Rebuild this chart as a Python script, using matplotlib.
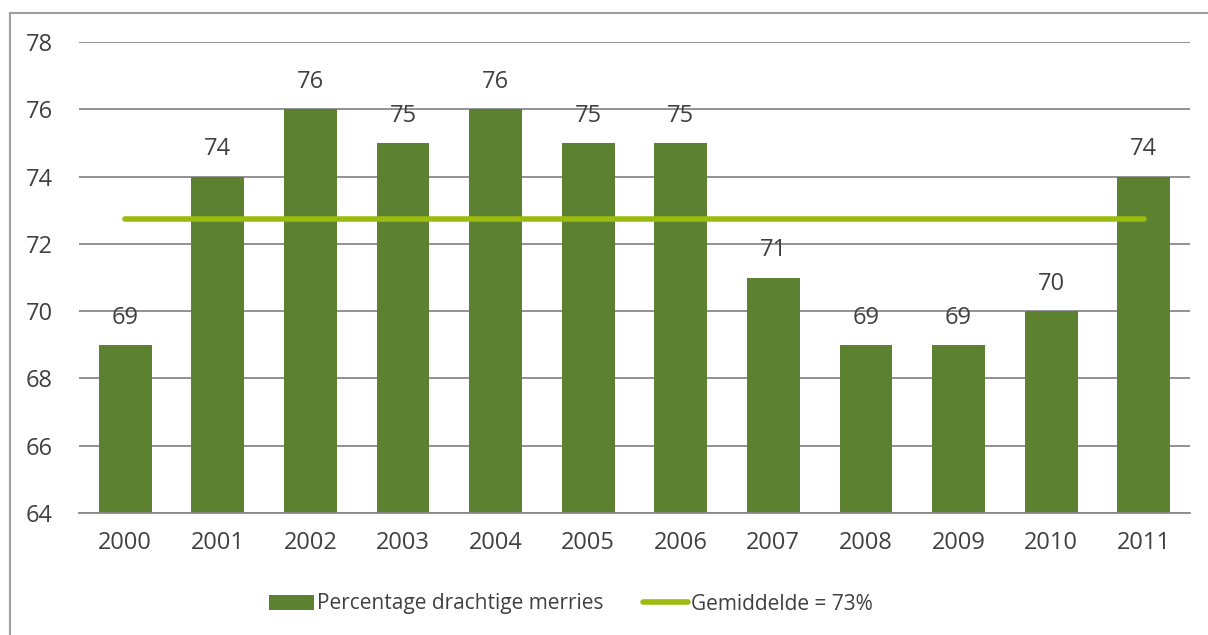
import matplotlib.pyplot as plt
import numpy as np
from matplotlib.lines import Line2D
from matplotlib.patches import Patch

years = ['2000', '2001', '2002', '2003', '2004', '2005',
         '2006', '2007', '2008', '2009', '2010', '2011']
percentages = [69, 74, 76, 75, 76, 75, 75, 71, 69, 69, 70, 74]
mean_value = 72.75

bar_color = '#5B8131'
line_color = '#9BBB0F'
text_color = '#404040'
grid_color = '#898989'

plt.rcParams['font.family'] = ['Open Sans', 'DejaVu Sans']

fig = plt.figure(figsize=(12.08, 6.35), dpi=100)
ax = fig.add_axes([79 / 1208, 1 - 513 / 635, (1190 - 79) / 1208, (513 - 42) / 635])

x = np.arange(len(years))
ax.bar(x, [p - 64 for p in percentages], bottom=64, width=0.57, color=bar_color, zorder=2)
ax.plot([x[0], x[-1]], [mean_value, mean_value], color=line_color, linewidth=4,
        solid_capstyle='round', zorder=3)

for xi, p in zip(x, percentages):
    ax.text(xi, p + 0.45, str(p), ha='center', va='bottom', fontsize=17, color=text_color)

ax.set_xlim(-0.5, len(years) - 0.5)
ax.set_ylim(64, 78)
ax.set_yticks(range(64, 79, 2))
ax.set_xticks(x)
ax.set_xticklabels(years)
ax.tick_params(axis='both', length=0, labelsize=17, colors=text_color)
ax.tick_params(axis='x', pad=13)
ax.tick_params(axis='y', pad=19)

ax.grid(axis='y', color=grid_color, linewidth=1.3, zorder=0)
ax.set_axisbelow(True)
for side in ['left', 'right', 'top']:
    ax.spines[side].set_visible(False)
ax.spines['bottom'].set_color(grid_color)
ax.spines['bottom'].set_linewidth(1.3)

# outer chart border (left and top visible)
fig.add_artist(Line2D([10 / 1208, 10 / 1208], [0, 1 - 13 / 635], transform=fig.transFigure,
                      color='#A0A0A0', linewidth=1.5))
fig.add_artist(Line2D([10 / 1208, 1], [1 - 13 / 635, 1 - 13 / 635], transform=fig.transFigure,
                      color='#A0A0A0', linewidth=1.5))

handles = [Patch(facecolor=bar_color, edgecolor='none'),
           Line2D([0], [0], color=line_color, linewidth=4, solid_capstyle='round')]
labels = ['Percentage drachtige merries', 'Gemiddelde = 73%']
fig.legend(handles, labels, loc='center', bbox_to_anchor=(571 / 1208, 1 - 604 / 635), ncol=2,
           frameon=False, fontsize=15, handlelength=2.15, handleheight=0.7,
           handletextpad=0.15, columnspacing=1.9, labelcolor=text_color)

fig.savefig('out.png', dpi=100)
